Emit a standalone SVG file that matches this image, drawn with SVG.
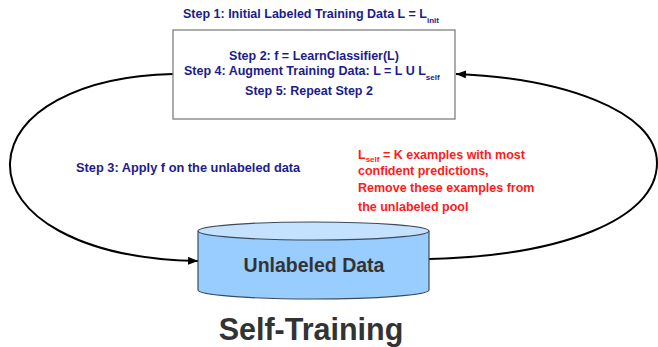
<svg xmlns="http://www.w3.org/2000/svg" width="658" height="347" viewBox="0 0 658 347">
  <defs>
    <marker id="arrow" markerWidth="10" markerHeight="8" refX="10" refY="4" orient="auto" markerUnits="userSpaceOnUse">
      <path d="M0,0 L10,4 L0,8 Z" fill="#000"/>
    </marker>
    <style>
      .step { font-family: "Liberation Sans", Arial, sans-serif; font-weight: bold; font-size: 12.5px; fill: #1c1c8c; }
      .note { font-family: "Liberation Sans", Arial, sans-serif; font-weight: bold; font-size: 12.5px; fill: #ff1a1a; }
      .sub { font-size: 8px; }
      .conn { fill: none; stroke: #000; stroke-width: 2; }
    </style>
  </defs>
  <rect width="658" height="347" fill="#fff"/>

  <!-- caption above the loop -->
  <text class="step" x="183" y="18">Step 1: Initial Labeled Training Data L = L<tspan class="sub" dy="5">init</tspan></text>

  <!-- connectors of the training loop -->
  <g id="connectors">
    <path class="conn" d="M173,74 C80,76 12,112 10,163 C8,215 80,259 198,261" marker-end="url(#arrow)"/>
    <path class="conn" d="M429,259 C560,256 657,220 657,163 C657,110 560,78 456,74" marker-end="url(#arrow)"/>
  </g>

  <!-- classifier box -->
  <g id="classifier">
    <rect x="173" y="30" width="282" height="89" fill="#fff" stroke="#808080" stroke-width="1.3"/>
    <text class="step" x="314" y="60" text-anchor="middle">Step 2: f = LearnClassifier(L)</text>
    <text class="step" x="184" y="75">Step 4: Augment Training Data: L = L U L<tspan class="sub" dy="5">self</tspan></text>
    <text class="step" x="309" y="95" text-anchor="middle">Step 5: Repeat Step 2</text>
  </g>

  <!-- step 3 label -->
  <g id="apply">
    <text class="step" x="76" y="172" style="font-size:12.8px">Step 3: Apply f on the unlabeled data</text>
  </g>

  <!-- selection note -->
  <g id="selection">
    <text class="note" x="358" y="159">L<tspan class="sub" dy="3">self</tspan><tspan dy="-3"> = K examples with most</tspan></text>
    <text class="note" x="358" y="175">confident predictions,</text>
    <text class="note" x="358" y="192">Remove these examples from</text>
    <text class="note" x="358" y="211">the unlabeled pool</text>
  </g>

  <!-- unlabeled data store -->
  <g id="unlabeled">
    <path d="M198,231 L198,290 A115.5,9 0 0 0 429,290 L429,231" fill="#99ccff" stroke="#3c4a5a" stroke-width="1.2"/>
    <ellipse cx="313.5" cy="231" rx="115.5" ry="9" fill="#c4e1ff" stroke="#3c4a5a" stroke-width="1.2"/>
    <text x="314" y="272" text-anchor="middle" font-family="Liberation Sans, Arial, sans-serif" font-weight="bold" font-size="19.5" fill="#333">Unlabeled Data</text>
  </g>

  <!-- title -->
  <text x="311" y="340" text-anchor="middle" font-family="Liberation Sans, Arial, sans-serif" font-weight="bold" font-size="30.5" fill="#333">Self-Training</text>
</svg>
